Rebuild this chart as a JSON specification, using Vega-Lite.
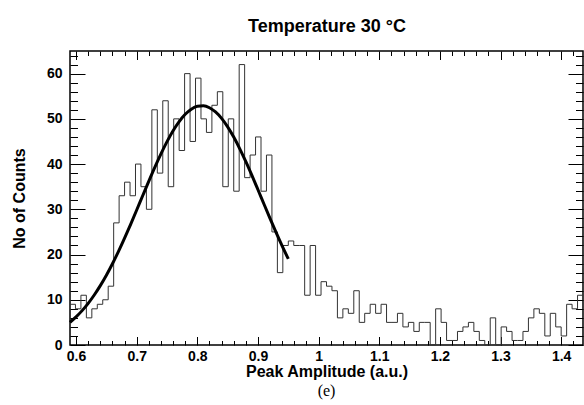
{
  "$schema": "https://vega.github.io/schema/vega-lite/v6.json",
  "width": 513,
  "height": 294,
  "autosize": {"type": "none"},
  "padding": {"left": 70, "top": 51, "right": 1, "bottom": 60},
  "background": "white",
  "config": {
    "view": {"stroke": "black", "strokeWidth": 1.5},
    "font": "Liberation Sans",
    "axis": {"grid": false, "domain": false, "tickColor": "black", "tickWidth": 1, "labelColor": "black", "titleColor": "black", "labelFlush": false, "labelOverlap": false}
  },
  "title": {"text": "(e)", "orient": "bottom", "font": "Liberation Serif", "fontSize": 16, "fontWeight": "normal", "color": "black", "offset": 3},
  "datasets": {
    "hist": [
      {"x": 0.590, "count": 9}, {"x": 0.599, "count": 8}, {"x": 0.608, "count": 11}, {"x": 0.617, "count": 6},
      {"x": 0.626, "count": 8}, {"x": 0.635, "count": 9}, {"x": 0.644, "count": 10}, {"x": 0.653, "count": 13},
      {"x": 0.662, "count": 27}, {"x": 0.671, "count": 33}, {"x": 0.680, "count": 36}, {"x": 0.689, "count": 33},
      {"x": 0.698, "count": 40}, {"x": 0.707, "count": 35}, {"x": 0.716, "count": 30}, {"x": 0.725, "count": 52},
      {"x": 0.734, "count": 38}, {"x": 0.743, "count": 54}, {"x": 0.752, "count": 35}, {"x": 0.761, "count": 50},
      {"x": 0.770, "count": 43}, {"x": 0.779, "count": 60}, {"x": 0.788, "count": 45}, {"x": 0.797, "count": 59},
      {"x": 0.806, "count": 50}, {"x": 0.815, "count": 47}, {"x": 0.824, "count": 53}, {"x": 0.833, "count": 56},
      {"x": 0.842, "count": 35}, {"x": 0.851, "count": 50}, {"x": 0.860, "count": 34}, {"x": 0.869, "count": 62},
      {"x": 0.878, "count": 37}, {"x": 0.887, "count": 42}, {"x": 0.896, "count": 46}, {"x": 0.905, "count": 34},
      {"x": 0.914, "count": 42}, {"x": 0.923, "count": 25}, {"x": 0.932, "count": 16}, {"x": 0.941, "count": 22},
      {"x": 0.950, "count": 23}, {"x": 0.959, "count": 22}, {"x": 0.968, "count": 22}, {"x": 0.977, "count": 11},
      {"x": 0.986, "count": 22}, {"x": 0.995, "count": 11}, {"x": 1.004, "count": 14}, {"x": 1.013, "count": 13},
      {"x": 1.022, "count": 12}, {"x": 1.031, "count": 6}, {"x": 1.040, "count": 8}, {"x": 1.049, "count": 7},
      {"x": 1.058, "count": 12}, {"x": 1.067, "count": 5}, {"x": 1.076, "count": 7}, {"x": 1.085, "count": 9},
      {"x": 1.094, "count": 7}, {"x": 1.103, "count": 9}, {"x": 1.112, "count": 5}, {"x": 1.121, "count": 5},
      {"x": 1.130, "count": 7}, {"x": 1.139, "count": 4}, {"x": 1.148, "count": 5}, {"x": 1.157, "count": 3},
      {"x": 1.166, "count": 5}, {"x": 1.175, "count": 5}, {"x": 1.184, "count": 0}, {"x": 1.193, "count": 8},
      {"x": 1.202, "count": 5}, {"x": 1.211, "count": 1}, {"x": 1.220, "count": 1}, {"x": 1.229, "count": 3},
      {"x": 1.238, "count": 4}, {"x": 1.247, "count": 5}, {"x": 1.256, "count": 3}, {"x": 1.265, "count": 1},
      {"x": 1.274, "count": 0}, {"x": 1.283, "count": 6}, {"x": 1.292, "count": 0}, {"x": 1.301, "count": 4},
      {"x": 1.310, "count": 3}, {"x": 1.319, "count": 1}, {"x": 1.328, "count": 1}, {"x": 1.337, "count": 3},
      {"x": 1.346, "count": 6}, {"x": 1.355, "count": 8}, {"x": 1.364, "count": 7}, {"x": 1.373, "count": 2},
      {"x": 1.382, "count": 7}, {"x": 1.391, "count": 4}, {"x": 1.400, "count": 2}, {"x": 1.409, "count": 9},
      {"x": 1.418, "count": 8}, {"x": 1.427, "count": 11}, {"x": 1.436, "count": 11}
    ],
    "fit": [
      {"x": 0.59, "fit": 5.02}, {"x": 0.60, "fit": 6.21}, {"x": 0.61, "fit": 7.60}, {"x": 0.62, "fit": 9.21},
      {"x": 0.63, "fit": 11.05}, {"x": 0.64, "fit": 13.12}, {"x": 0.65, "fit": 15.42}, {"x": 0.66, "fit": 17.96},
      {"x": 0.67, "fit": 20.70}, {"x": 0.68, "fit": 23.62}, {"x": 0.69, "fit": 26.68}, {"x": 0.70, "fit": 29.84},
      {"x": 0.71, "fit": 33.05}, {"x": 0.72, "fit": 36.23}, {"x": 0.73, "fit": 39.33}, {"x": 0.74, "fit": 42.26},
      {"x": 0.75, "fit": 44.97}, {"x": 0.76, "fit": 47.37}, {"x": 0.77, "fit": 49.40}, {"x": 0.78, "fit": 51.01},
      {"x": 0.79, "fit": 52.14}, {"x": 0.80, "fit": 52.77}, {"x": 0.81, "fit": 52.88}, {"x": 0.82, "fit": 52.46},
      {"x": 0.83, "fit": 51.52}, {"x": 0.84, "fit": 50.10}, {"x": 0.85, "fit": 48.23}, {"x": 0.86, "fit": 45.97},
      {"x": 0.87, "fit": 43.38}, {"x": 0.88, "fit": 40.53}, {"x": 0.89, "fit": 37.49}, {"x": 0.90, "fit": 34.33},
      {"x": 0.91, "fit": 31.12}, {"x": 0.92, "fit": 27.94}, {"x": 0.93, "fit": 24.83}, {"x": 0.94, "fit": 21.85},
      {"x": 0.95, "fit": 19.03}
    ]
  },
  "resolve": {"axis": {"x": "independent", "y": "independent"}},
  "layer": [
    {
      "data": {"name": "hist"},
      "mark": {"type": "line", "interpolate": "step-after", "color": "#333333", "strokeWidth": 1},
      "encoding": {
        "x": {"field": "x", "type": "quantitative",
          "scale": {"domain": [0.59, 1.436], "nice": false, "zero": false},
          "axis": {"orient": "bottom", "values": [0.6, 0.7, 0.8, 0.9, 1.0, 1.1, 1.2, 1.3, 1.4], "format": "~g",
            "tickSize": -8.5, "labelPadding": 13, "labelFontSize": 14, "labelFontWeight": "bold",
            "title": "Peak Amplitude (a.u.)", "titleFontSize": 16, "titleFontWeight": "bold", "titlePadding": 0}},
        "y": {"field": "count", "type": "quantitative",
          "scale": {"domain": [0, 65], "nice": false, "zero": true},
          "axis": {"orient": "left", "values": [0, 10, 20, 30, 40, 50, 60],
            "tickSize": -15, "labelPadding": 23, "labelFontSize": 14, "labelFontWeight": "bold",
            "title": "No of Counts", "titleFontSize": 16, "titleFontWeight": "bold", "titlePadding": 19}}
      }
    },
    {
      "data": {"name": "hist"},
      "mark": {"type": "line", "opacity": 0},
      "encoding": {
        "x": {"field": "x", "type": "quantitative",
          "axis": {"orient": "bottom", "values": [0.62, 0.64, 0.66, 0.68, 0.72, 0.74, 0.76, 0.78, 0.82, 0.84, 0.86, 0.88, 0.92, 0.94, 0.96, 0.98, 1.02, 1.04, 1.06, 1.08, 1.12, 1.14, 1.16, 1.18, 1.22, 1.24, 1.26, 1.28, 1.32, 1.34, 1.36, 1.38, 1.42],
            "tickSize": -4.5, "labels": false, "title": null}},
        "y": {"field": "count", "type": "quantitative",
          "axis": {"orient": "left", "values": [2, 4, 6, 8, 12, 14, 16, 18, 22, 24, 26, 28, 32, 34, 36, 38, 42, 44, 46, 48, 52, 54, 56, 58, 62, 64],
            "tickSize": -7.5, "labels": false, "title": null}}
      }
    },
    {
      "data": {"name": "hist"},
      "mark": {"type": "line", "opacity": 0},
      "encoding": {
        "x": {"field": "x", "type": "quantitative",
          "axis": {"orient": "top", "values": [0.62, 0.64, 0.66, 0.68, 0.72, 0.74, 0.76, 0.78, 0.82, 0.84, 0.86, 0.88, 0.92, 0.94, 0.96, 0.98, 1.02, 1.04, 1.06, 1.08, 1.12, 1.14, 1.16, 1.18, 1.22, 1.24, 1.26, 1.28, 1.32, 1.34, 1.36, 1.38, 1.42],
            "tickSize": -4.5, "labels": false, "title": null}},
        "y": {"field": "count", "type": "quantitative",
          "axis": {"orient": "right", "values": [2, 4, 6, 8, 12, 14, 16, 18, 22, 24, 26, 28, 32, 34, 36, 38, 42, 44, 46, 48, 52, 54, 56, 58, 62, 64],
            "tickSize": -7.5, "labels": false, "title": null}}
      }
    },
    {
      "data": {"name": "fit"},
      "mark": {"type": "line", "color": "black", "strokeWidth": 3, "interpolate": "monotone"},
      "encoding": {
        "x": {"field": "x", "type": "quantitative",
          "axis": {"orient": "top", "values": [0.6, 0.7, 0.8, 0.9, 1.0, 1.1, 1.2, 1.3, 1.4],
            "tickSize": -8.5, "labels": false,
            "title": "Temperature 30 °C", "titleFontSize": 18, "titleFontWeight": "bold", "titlePadding": 15}},
        "y": {"field": "fit", "type": "quantitative",
          "axis": {"orient": "right", "values": [0, 10, 20, 30, 40, 50, 60],
            "tickSize": -15, "labels": false, "title": null}}
      }
    }
  ]
}
